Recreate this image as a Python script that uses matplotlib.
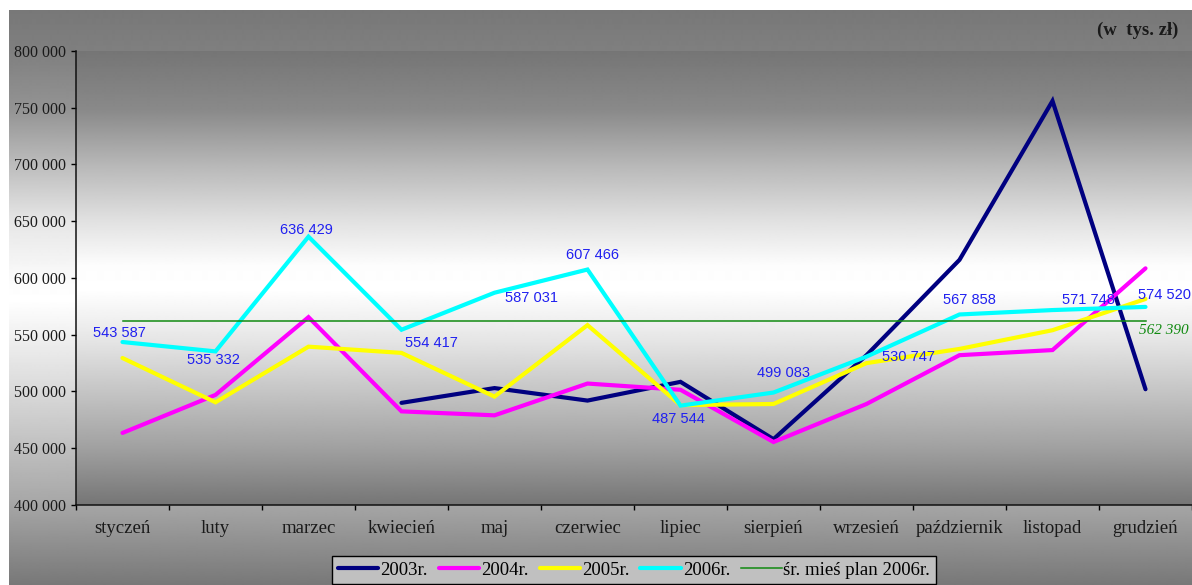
import numpy as np
import matplotlib
matplotlib.use("Agg")
import matplotlib.pyplot as plt
from matplotlib.ticker import FuncFormatter, FixedLocator

# ---- data -------------------------------------------------------------
months = ["styczeń", "luty", "marzec", "kwiecień", "maj", "czerwiec",
          "lipiec", "sierpień", "wrzesień", "październik", "listopad", "grudzień"]

y2003 = [None, None, None, 490000, 503000, 492000, 508500, 458000,
         532000, 616000, 756000, 502000]
y2004 = [463500, 497000, 565500, 482500, 479000, 507000, 501500, 455500,
         489000, 532000, 536500, 608500]
y2005 = [529500, 490500, 539500, 534000, 495500, 558500, 488000, 489000,
         525000, 537500, 554000, 581500]
y2006 = [543587, 535332, 636429, 554417, 587031, 607466, 487544, 499083,
         530747, 567858, 571748, 574520]
plan_2006 = 562390

series_names = ["2003r.", "2004r.", "2005r.", "2006r."]
plan_name = "śr. mieś plan 2006r."
unit_text = "(w  tys. zł)"

yticks = [400000, 450000, 500000, 550000, 600000, 650000, 700000, 750000, 800000]

# label offsets for the 2006 values (pixels, relative to each point)
label_offsets = [(-3, 9), (-2, -9), (-2, 7), (30, -13), (37, -5), (5, 15),
                 (-2, -13), (10, 20), (42, 0), (10, 14), (36, 10), (19, 12)]

# ---- figure -----------------------------------------------------------
W, H = 1192, 585
fig = plt.figure(figsize=(W / 100, H / 100), dpi=100)
fig.patch.set_facecolor("white")

serif = ["Liberation Serif", "DejaVu Serif"]
sans = ["Liberation Sans", "DejaVu Sans"]


def gradient_column(y0, y1, stops):
    rows = np.arange(y0, y1)
    ys, vs = zip(*stops)
    g = np.interp(rows, ys, vs)
    return np.repeat(g[:, None], 2, axis=1)


# outer chart-area gradient
bg = fig.add_axes([9 / W, 0, 1 - 9 / W, (H - 10) / H], zorder=-10)
outer = gradient_column(10, H, [(10, 0.47), (51, 0.50), (110, 0.58), (165, 0.74),
                                (220, 0.90), (285, 0.99), (300, 1.0), (392, 0.85),
                                (505, 0.65), (585, 0.47)])
bg.imshow(outer, cmap="gray", vmin=0, vmax=1, aspect="auto",
          extent=(0, 1, 0, 1), interpolation="bilinear")
bg.set_axis_off()

# plot area
left, right, top, bottom = 76, 1192, 51, 505
ax = fig.add_axes([left / W, (H - bottom) / H, (right - left) / W, (bottom - top) / H])
ax.set_facecolor("none")
inner = gradient_column(top, bottom, [(51, 0.46), (110, 0.54), (165, 0.72), (220, 0.88),
                                      (265, 0.99), (290, 1.0), (340, 0.90), (392, 0.77),
                                      (448, 0.63), (505, 0.46)])
ax.imshow(inner, cmap="gray", vmin=0, vmax=1, aspect="auto",
          extent=(0, 1, 0, 1), transform=ax.transAxes, interpolation="bilinear",
          zorder=0)

x = np.arange(len(months))


def arr(vals):
    return np.array([np.nan if v is None else v for v in vals], dtype=float)


lw = 3.0
colors = ["#000080", "#ff00ff", "#ffff00", "#00ffff"]
handles = []
for vals, c, name in zip([y2003, y2004, y2005, y2006], colors, series_names):
    h, = ax.plot(x, arr(vals), color=c, lw=lw, solid_joinstyle="miter",
                 solid_capstyle="round", label=name, zorder=3)
    handles.append(h)

plan_line, = ax.plot(x, [plan_2006] * len(x), color="#108a10", lw=1.1,
                     label=plan_name, zorder=4)
handles.append(plan_line)

fmt = lambda v: f"{int(v):,}".replace(",", " ")

for i, v in enumerate(y2006):
    dx, dy = label_offsets[i]
    ax.annotate(fmt(v), (x[i], v), xytext=(dx, dy), textcoords="offset pixels",
                ha="center", va="center", color="#2020f0", fontsize=10.5,
                family=sans, zorder=5)

ax.annotate(fmt(plan_2006), (x[-1], plan_2006), xytext=(18, -10),
            textcoords="offset pixels", ha="center", va="center",
            color="#108a10", fontsize=11, family=serif, style="italic", zorder=5)

# axes
ax.set_xlim(-0.5, len(months) - 0.5)
ax.set_ylim(400000, 800000)
ax.set_yticks(yticks)
ax.yaxis.set_major_formatter(FuncFormatter(lambda v, p: fmt(v)))
ax.set_xticks(x)
ax.set_xticklabels(months)
ax.xaxis.set_minor_locator(FixedLocator(np.arange(-0.5, len(months), 1.0)))
ax.tick_params(axis="x", which="major", length=0, pad=11)
ax.tick_params(axis="x", which="minor", length=3.5, width=1, direction="out")
ax.tick_params(axis="y", length=3.5, width=1, direction="out", pad=4)
for lab in ax.get_xticklabels():
    lab.set_family(serif)
    lab.set_fontsize(13.5)
    lab.set_color("#1a1a1a")
for lab in ax.get_yticklabels():
    lab.set_family(serif)
    lab.set_fontsize(11.5)
    lab.set_color("#1a1a1a")
for s in ["top", "right"]:
    ax.spines[s].set_visible(False)
for s in ["left", "bottom"]:
    ax.spines[s].set_linewidth(1.1)
    ax.spines[s].set_color("#111111")
    ax.spines[s].set_zorder(6)

fig.text(1178 / W, 1 - 30 / H, unit_text, ha="right", va="center",
         family=serif, fontsize=13.5, fontweight="bold", color="#1a1a1a")

leg = fig.legend(handles=handles, loc="upper left",
                 bbox_to_anchor=(332 / W, 1 - 556 / H), ncol=5,
                 frameon=True, fancybox=False, framealpha=1,
                 facecolor="#c0c0c0", edgecolor="black",
                 prop={"family": serif, "size": 13.5},
                 handlelength=2.15, handletextpad=0.1, columnspacing=0.6,
                 borderpad=0.3, borderaxespad=0)
leg.get_frame().set_linewidth(1.0)

fig.savefig("out.png", dpi=100)
